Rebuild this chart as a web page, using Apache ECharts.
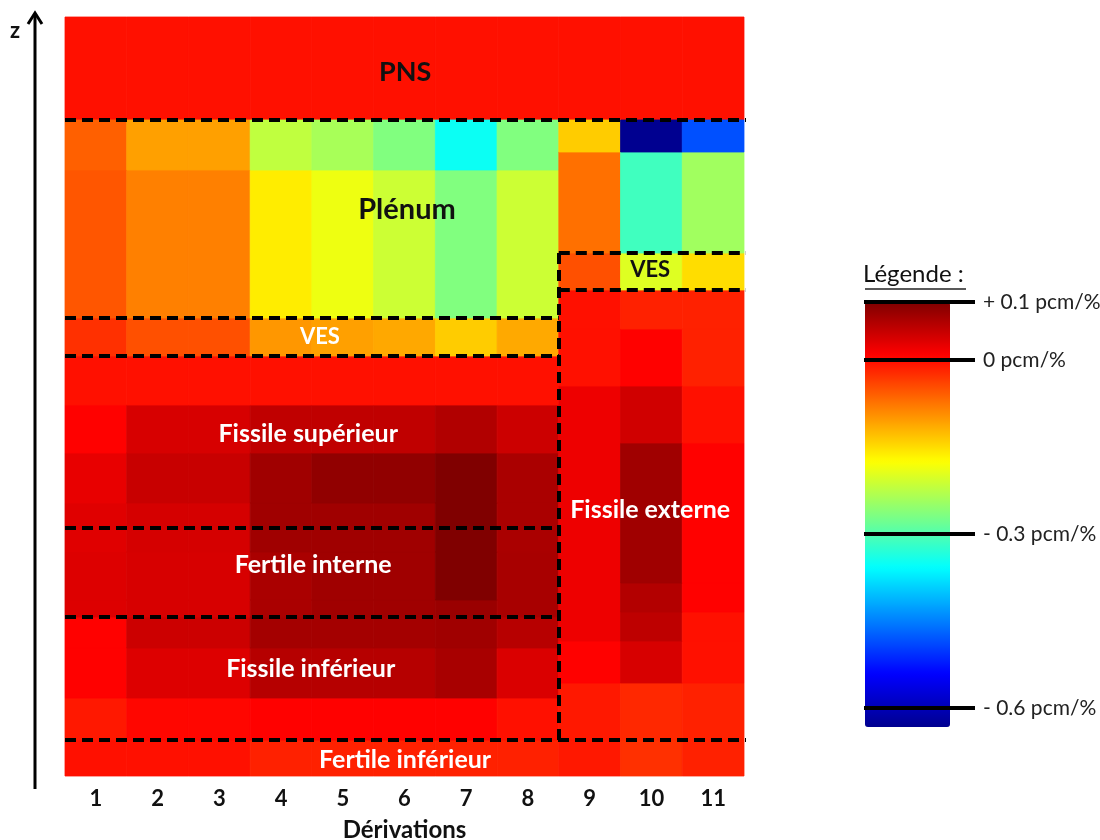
<!DOCTYPE html>
<html><head><meta charset="utf-8">
<script src="https://cdn.jsdelivr.net/npm/echarts@6/dist/echarts.min.js"></script>
<style>html,body{margin:0;padding:0;background:#fff}#c{width:1100px;height:840px}</style>
</head><body><div id="c"></div>
<script>
// ---- data ----
const derivations = ['1','2','3','4','5','6','7','8','9','10','11'];
const zMax = 759; // height of the model (arbitrary units, 0 = bottom)

// PNS (top zone, all derivations)
const pnsEdges = [656, 759];
const pnsValues = [-0.003,-0.003,-0.003,-0.003,-0.003,-0.003,-0.003,-0.003,-0.003,-0.003,-0.003];

// inner core (derivations 1-8): mesh edges bottom -> top, then one row of values per mesh layer
const innerEdges = [0, 36, 78, 128, 159, 176, 224, 273, 323, 371, 420, 458, 606, 656];
const innerValues = [
  [-0.003,-0.003,-0.003,-0.015,-0.015,-0.015,-0.015,-0.015],
  [-0.009, 0.004, 0.004, 0.008, 0.008, 0.008, 0.008,-0.003],
  [ 0.008, 0.033, 0.033, 0.061, 0.061, 0.061, 0.071, 0.035],
  [ 0.008, 0.045, 0.045, 0.074, 0.074, 0.074, 0.077, 0.060],
  [ 0.033, 0.037, 0.037, 0.070, 0.077, 0.077, 0.081, 0.071],
  [ 0.033, 0.037, 0.037, 0.070, 0.077, 0.077, 0.100, 0.071],
  [ 0.031, 0.039, 0.039, 0.077, 0.077, 0.077, 0.100, 0.070],
  [ 0.025, 0.048, 0.048, 0.077, 0.088, 0.088, 0.100, 0.070],
  [ 0.008, 0.037, 0.037, 0.054, 0.054, 0.054, 0.065, 0.045],
  [-0.003,-0.003,-0.003,-0.003,-0.003,-0.003,-0.003,-0.003],
  [-0.026,-0.049,-0.049,-0.100,-0.106,-0.112,-0.138,-0.113],
  [-0.053,-0.083,-0.083,-0.162,-0.187,-0.212,-0.266,-0.212],
  [-0.060,-0.106,-0.106,-0.220,-0.238,-0.266,-0.350,-0.266]
];

// outer core (derivations 9-11)
const outerEdges = [0, 36, 93, 135, 164, 193, 333, 390, 447, 486, 523, 624, 656];
const outerValues = [
  [-0.009,-0.026,-0.015],
  [-0.009,-0.020,-0.015],
  [ 0.008, 0.037,-0.003],
  [ 0.021, 0.055,-0.003],
  [ 0.021, 0.063, 0.008],
  [ 0.021, 0.077, 0.008],
  [ 0.021, 0.042,-0.003],
  [-0.003, 0.008,-0.015],
  [-0.003,-0.015,-0.015],
  [-0.049,-0.199,-0.150],
  [-0.072,-0.312,-0.243],
  [-0.138,-0.632,-0.484]
];

// zone boundaries (x in derivation units 0..11, z in height units)
const boundaries = [
  [[0,656],[11.05,656]],
  [[0,458],[8,458]],
  [[0,420],[8,420]],
  [[8,523],[11.05,523]],
  [[8,486],[11.05,486]],
  [[8,523],[8,36]],
  [[0,248],[8,248]],
  [[0,159],[8,159]],
  [[0,36],[11.05,36]]
];

// zone names and anchors
const regionNames = ['PNS','Plénum','VES','VES','Fissile supérieur','Fertile interne','Fissile inférieur','Fertile inférieur','Fissile externe'];
const regionX = [5.51, 5.54, 4.13, 9.48, 3.94, 4.02, 3.98, 5.51, 9.48];
const regionZ = [704, 566, 439, 506, 342, 211, 107, 16, 266];
const regionDark = [true, true, false, true, false, false, false, false, false];

// colour scale
const scaleMin = -0.633, scaleMax = 0.1;
const legendTicks = [0.1, 0, -0.3, -0.6];
const legendTickLabels = ['+ 0.1 pcm/%', '0 pcm/%', '- 0.3 pcm/%', '- 0.6 pcm/%'];
const leftTicks = [97,158,219,280,341,402,463,524,585];
const rightTicks = [43,114,185,255,326,397,469,540,611];

// ---- build ----
const cells = [];
derivations.forEach((d, i) => cells.push([i + 1, pnsEdges[0], pnsEdges[1], pnsValues[i]]));
innerValues.forEach((row, r) => row.forEach((v, j) => cells.push([j + 1, innerEdges[r], innerEdges[r + 1], v])));
outerValues.forEach((row, r) => row.forEach((v, j) => cells.push([j + 9, outerEdges[r], outerEdges[r + 1], v])));

const FONT = 'Lato, "Open Sans", "Noto Sans", sans-serif';
const jet = ['#00008f','#0000ff','#0080ff','#00ffff','#80ff80','#ffff00','#ff8000','#ff0000','#800000'];
const labelSizes = [27, 29, 22, 22, 25, 25, 25, 25, 25];

function renderCell(params, api) {
  const c = api.value(0);
  const a = api.coord([c - 1, api.value(2)]);
  const b = api.coord([c, api.value(1)]);
  const col = api.visual('color');
  return { type: 'rect', shape: { x: a[0], y: a[1], width: b[0] - a[0], height: b[1] - a[1] },
           style: { fill: col, stroke: col, lineWidth: 0.8 } };
}

const chart = echarts.init(document.getElementById('c'), null, { renderer: 'canvas' });
chart.setOption({
  animation: false,
  backgroundColor: '#ffffff',
  title: { text: 'Légende :', left: 863, top: 262, padding: 0,
           textStyle: { fontFamily: FONT, fontSize: 24, fontWeight: 'normal', color: '#111' } },
  grid: [
    { left: 65, top: 17, width: 679, height: 759, outerBoundsMode: 'none', containLabel: false },
    { left: 864, top: 302, width: 111, height: 425, outerBoundsMode: 'none', containLabel: false }
  ],
  xAxis: [
    { type: 'category', gridIndex: 0, data: derivations, boundaryGap: true, position: 'bottom',
      axisLine: { show: false }, axisTick: { show: false }, splitLine: { show: false },
      axisLabel: { margin: 12, fontFamily: FONT, fontSize: 22, fontWeight: 'bold', color: '#111' },
      name: 'Dérivations', nameLocation: 'middle', nameGap: 42,
      nameTextStyle: { fontFamily: FONT, fontSize: 24, fontWeight: 'bold', color: '#111' } },
    { type: 'value', gridIndex: 0, min: 0, max: 11, show: false },
    { type: 'value', gridIndex: 1, min: 0, max: 1, show: false }
  ],
  yAxis: [
    { type: 'value', gridIndex: 0, min: 0, max: zMax, position: 'left',
      axisLine: { show: false }, axisLabel: { show: false }, splitLine: { show: false },
      axisTick: { show: true, inside: true, length: 4, customValues: leftTicks, lineStyle: { color: '#400', width: 1 } } },
    { type: 'value', gridIndex: 0, min: 0, max: zMax, position: 'right',
      axisLine: { show: false }, axisLabel: { show: false }, splitLine: { show: false },
      axisTick: { show: true, inside: true, length: 5, customValues: rightTicks, lineStyle: { color: '#400', width: 1 } } },
    { type: 'value', gridIndex: 1, min: scaleMin, max: scaleMax, show: false }
  ],
  visualMap: {
    type: 'continuous', min: scaleMin, max: scaleMax, seriesIndex: 0, dimension: 3,
    inRange: { color: jet }, calculable: false, orient: 'vertical',
    left: 865, top: 302, itemWidth: 85, itemHeight: 425, padding: 0, hoverLink: false
  },
  series: [
    { type: 'custom', name: 'cells', xAxisIndex: 1, yAxisIndex: 0, renderItem: renderCell,
      encode: { x: 0, y: [1, 2] }, data: cells, silent: true, z: 2 },
    { type: 'lines', coordinateSystem: 'cartesian2d', xAxisIndex: 1, yAxisIndex: 0, silent: true, z: 5,
      lineStyle: { color: '#000', width: 4, type: [11, 6], opacity: 1 },
      data: boundaries.map(c => ({ coords: c })) },
    { type: 'scatter', xAxisIndex: 1, yAxisIndex: 0, symbolSize: 0, silent: true, z: 6,
      itemStyle: { opacity: 1 },
      label: { show: true, position: 'inside', formatter: '{b}', fontFamily: FONT, fontWeight: 'bold',
               opacity: 1, textBorderWidth: 0 },
      data: regionNames.map((n, i) => ({
        name: n, value: [regionX[i], regionZ[i]],
        label: { color: regionDark[i] ? '#111111' : '#ffffff', fontSize: labelSizes[i] }
      })) },
    { type: 'scatter', xAxisIndex: 2, yAxisIndex: 2, symbolSize: 0, silent: true, z: 10,
      data: [[0.5, 0]],
      markLine: {
        silent: true, symbol: 'none', animation: false,
        lineStyle: { color: '#000', width: 4, type: 'solid' },
        label: { show: true, position: 'end', distance: 8, formatter: '{b}',
                 fontFamily: FONT, fontSize: 21, color: '#222' },
        data: legendTicks.map((v, i) => ({ yAxis: v, name: legendTickLabels[i] }))
      } }
  ],
  graphic: [
    { type: 'line', shape: { x1: 35, y1: 789, x2: 35, y2: 14 }, style: { stroke: '#000', lineWidth: 3 } },
    { type: 'polyline', shape: { points: [[28, 24], [35, 13], [42, 24]] }, style: { stroke: '#000', lineWidth: 3, fill: null } },
    { type: 'text', left: 10, top: 20, style: { text: 'z', fontFamily: FONT, fontSize: 22, fontWeight: 'bold', fill: '#111' } },
    { type: 'line', shape: { x1: 865, y1: 289, x2: 966, y2: 289 }, style: { stroke: '#222', lineWidth: 1.5 } }
  ]
});
</script></body></html>
